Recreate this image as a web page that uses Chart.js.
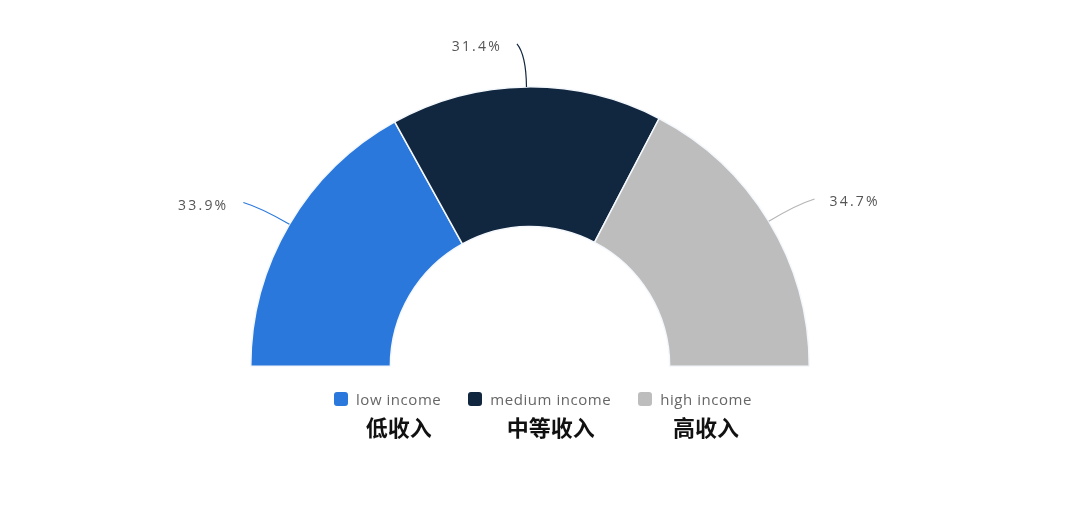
<!DOCTYPE html>
<html>
<head>
<meta charset="utf-8">
<script src="https://cdn.jsdelivr.net/npm/chart.js@4.4.1/dist/chart.umd.min.js"></script>
<style>
    html, body { margin: 0; padding: 0; background: #fff; }
    .wrap { position: relative; width: 1080px; height: 507px; }
    #legend {
        position: absolute; top: 389px; left: 0; width: 1086px;
        display: flex; justify-content: center; gap: 27px;
        font-family: "Open Sans", sans-serif;
    }
    .item { display: flex; align-items: flex-start; }
    .box { width: 14px; height: 14px; border-radius: 3px; margin: 3px 8px 0 0; }
    .col { display: flex; flex-direction: column; align-items: center; }
    .en { font-size: 15px; color: #666; line-height: 20px; letter-spacing: 0.55px; white-space: nowrap; }
    .zh { font-family: "Noto Sans CJK SC", sans-serif; font-size: 22px; font-weight: 700; color: #111; line-height: 28px; margin-top: 3px; white-space: nowrap; }
</style>
</head>
<body>
<div class="wrap">
    <canvas id="incomeChart" width="1080" height="507"></canvas>
    <div id="legend"></div>
</div>
<script>
const categories = ["low income", "medium income", "high income"]
const categoriesZh = ["低收入", "中等收入", "高收入"]
const shares = [33.9, 31.4, 34.7]
const colors = ["#2a78dc", "#11263f", "#bdbdbd"]

// percentage labels with curved leader lines
const leaderLabels = {
    id: "leaderLabels",
    afterDatasetsDraw(chart) {
        const ctx = chart.ctx
        const meta = chart.getDatasetMeta(0)
        meta.data.forEach((arc, i) => {
            const p = arc.getProps(["x", "y", "startAngle", "endAngle", "outerRadius"], true)
            const mid = (p.startAngle + p.endAngle) / 2
            const cx = Math.cos(mid), cy = Math.sin(mid)
            const side = cx < 0 ? -1 : 1
            const x0 = p.x + cx * p.outerRadius, y0 = p.y + cy * p.outerRadius
            const x1 = x0 + cx * 32, y1 = y0 + cy * 32
            const x2 = x0 + cx * 43 + side * 9, y2 = y0 + cy * 43
            ctx.save()
            ctx.strokeStyle = colors[i] === "#bdbdbd" ? "#b5b5b5" : colors[i]
            ctx.lineWidth = 1.2
            ctx.beginPath()
            ctx.moveTo(x0, y0)
            ctx.quadraticCurveTo(x1, y1, x2, y2)
            ctx.stroke()
            ctx.font = "14px 'Open Sans', sans-serif"
            ctx.letterSpacing = "2.2px"
            ctx.fillStyle = "#555"
            ctx.textAlign = side < 0 ? "right" : "left"
            ctx.textBaseline = "middle"
            ctx.fillText(shares[i].toFixed(1) + "%", x2 + side * 15, y2 + 3)
            ctx.restore()
        })
    }
}

const ctx = document.getElementById("incomeChart").getContext("2d")
new Chart(ctx, {
    type: "doughnut",
    data: {
        labels: categories,
        datasets: [{
            data: shares,
            backgroundColor: colors,
            borderColor: "#f4f8fc",
            borderWidth: 1.5
        }]
    },
    options: {
        responsive: false,
        animation: false,
        rotation: -90,
        circumference: 180,
        cutout: "50%",
        layout: { padding: { left: 250, right: 270, top: 86, bottom: 140 } },
        plugins: {
            legend: { display: false },
            tooltip: { enabled: false }
        }
    },
    plugins: [leaderLabels]
})

// legend with chinese captions
const legendEl = document.getElementById("legend")
categories.forEach((name, i) => {
    const item = document.createElement("div")
    item.className = "item"
    item.innerHTML = `
        <div class="box" style="background:${colors[i]}"></div>
        <div class="col"><span class="en">${name}</span><span class="zh">${categoriesZh[i]}</span></div>
    `
    legendEl.appendChild(item)
})
</script>
</body>
</html>
